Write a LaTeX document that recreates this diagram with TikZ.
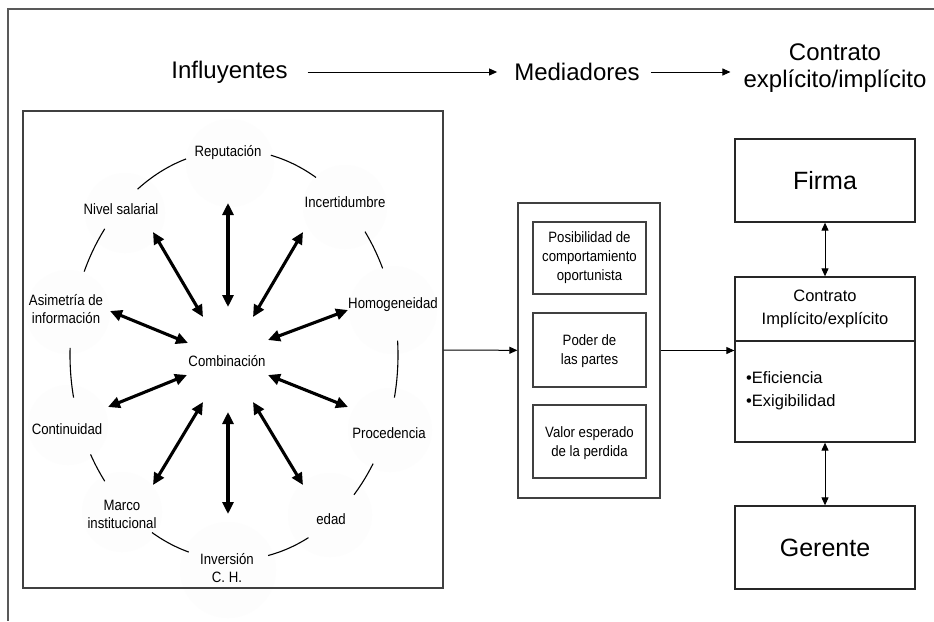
\documentclass[tikz,border=0pt]{standalone}
\usepackage{fontspec}
\setmainfont{Liberation Sans}
\newfontfamily\nar{Liberation Sans}[FakeStretch=0.88]
\usetikzlibrary{arrows.meta,shapes.geometric}
\begin{document}
\begin{tikzpicture}[x=1pt,y=-1pt,
  lbl/.style={font=\nar\fontsize{15}{18}\selectfont,align=center,inner sep=0pt},
  boxtxt/.style={font=\nar\fontsize{15}{19}\selectfont,align=center,inner sep=0pt},
  hdr/.style={font=\fontsize{24}{27}\selectfont,align=center,inner sep=0pt},
  big/.style={font=\fontsize{25}{28}\selectfont,inner sep=0pt},
  bubble/.style={fill=black!0.8,draw=none},
  arcline/.style={line width=1.1pt,black},
  dbl/.style={line width=3.1pt,{Triangle[length=12pt,width=11pt]}-{Triangle[length=12pt,width=11pt]}},
  thinarrow/.style={line width=1pt,-{Triangle[length=8pt,width=7pt]}},
  thindbl/.style={line width=1pt,{Triangle[length=8pt,width=7pt]}-{Triangle[length=8pt,width=7pt]}},
  frame/.style={draw=black!65,line width=1.3pt},
  box/.style={draw=black!75,line width=1.3pt,inner sep=0pt}]
\useasboundingbox (0,0) rectangle (934,621);
\fill[white] (0,0) rectangle (934,621);
% outer frame (top and left edges)
\draw[frame] (934,9) -- (8,9) -- (8,621);

% headers
\node[hdr] (infl) at (229.5,72) {Influyentes};
\node[hdr] (med) at (577,72) {Mediadores};
\node[hdr] (ctr) at (835,68.5) {Contrato\\explícito/implícito};
\draw[thinarrow,shorten <=20pt,shorten >=17pt] (infl) -- (med);
\draw[thinarrow,shorten <=11pt,shorten >=13pt] (med.east) -- (med.east -| ctr.west);

% faint bubbles
\fill[bubble] (230,163) circle[radius=44];
\fill[bubble] (125,213) circle[radius=40];
\fill[bubble] (345,207) circle[radius=42];
\fill[bubble] (68,312) circle[radius=42];
\fill[bubble] (393,310) circle[radius=44];
\fill[bubble] (68,425) circle[radius=40];
\fill[bubble] (390,430) circle[radius=42];
\fill[bubble] (122,512) circle[radius=40];
\fill[bubble] (330,515) circle[radius=42];
\fill[bubble] (228,570) circle[radius=48];

% left box
\node[box,minimum width=420pt,minimum height=477pt] (lbox) at (233,349.5) {};

% ring arcs
\foreach \a/\b in {107/126,142/156,178/192,209/218,240/254,282/297,317/328,348/364,25/37,60/77}
  \draw[arcline] plot[domain=\a:\b,samples=20] ({234+164*cos(\x)},{355-205*sin(\x)});

% labels
\node[lbl] (comb) at (227,361) {Combinación};
\node[lbl] (rep) at (228,153) {Reputación};
\node[lbl] (niv) at (121,209) {Nivel salarial};
\node[lbl] (inc) at (345,202) {Incertidumbre};
\node[lbl] (asi) at (66,309) {Asimetría de\\información};
\node[lbl] (hom) at (393,305) {Homogeneidad};
\node[lbl] (con) at (67,429) {Continuidad};
\node[lbl] (pro) at (389,433) {Procedencia};
\node[lbl] (mar) at (122,514) {Marco\\institucional};
\node[lbl] (eda) at (331,519) {edad};
\node[lbl] (inv) at (227,568) {Inversión\\C. H.};

% thick double arrows
\coordinate (rep-o) at (228,203); \coordinate (rep-i) at (228,307);
\coordinate (niv-o) at (153,232); \coordinate (niv-i) at (203,317);
\coordinate (inc-o) at (303,232); \coordinate (inc-i) at (253,317);
\coordinate (asi-o) at (110,311); \coordinate (asi-i) at (188,343);
\coordinate (hom-o) at (348,310); \coordinate (hom-i) at (268,340);
\coordinate (con-o) at (108,407); \coordinate (con-i) at (187,375);
\coordinate (pro-o) at (348,407); \coordinate (pro-i) at (268,375);
\coordinate (mar-o) at (153,485); \coordinate (mar-i) at (203,402);
\coordinate (eda-o) at (303,485); \coordinate (eda-i) at (253,402);
\coordinate (inv-o) at (228,514); \coordinate (inv-i) at (228,412);
\foreach \n in {rep,niv,inc,asi,hom,con,pro,mar,eda,inv}
  \draw[dbl] (\n-o) -- (\n-i);

% middle box
\node[box,minimum width=142pt,minimum height=295pt] (mid) at (589,350.5) {};
\node[box,minimum width=113pt,minimum height=72pt] (m1) at (589.5,258) {};
\node[box,minimum width=113pt,minimum height=74pt] (m2) at (589.5,350) {};
\node[box,minimum width=113pt,minimum height=73pt] (m3) at (589.5,441.5) {};
\node[boxtxt] at (m1) {Posibilidad de\\comportamiento\\oportunista};
\node[boxtxt] at (589.5,351) {Poder de\\las partes};
\node[boxtxt] at (589.5,443) {Valor esperado\\de la perdida};

% right boxes
\node[box,draw=black!85,minimum width=180pt,minimum height=83pt] (firma) at (825,180.5) {};
\node[big] at (firma) {Firma};
\node[box,draw=black!85,minimum width=180pt,minimum height=165pt] (cbox) at (825,359.5) {};
\draw[black!85,line width=1.3pt] (735,341) -- (915,341);
\node[font=\fontsize{16.5}{23}\selectfont,align=center,inner sep=0pt] at (825,308.5) {Contrato\\Implícito/explícito};
\node[font=\fontsize{16.5}{23}\selectfont,align=left,inner sep=0pt,anchor=west] at (746,390.5) {•Eficiencia\\•Exigibilidad};
\node[box,draw=black!85,minimum width=180pt,minimum height=83pt] (ger) at (825,547.5) {};
\node[big] at (ger) {Gerente};

% connectors
\draw[thinarrow] (lbox) -- (mid);
\draw[thinarrow] (mid.east) -- (mid.east -| cbox.west);
\draw[thindbl] (firma) -- (cbox);
\draw[thindbl] (cbox) -- (ger);
\end{tikzpicture}
\end{document}
